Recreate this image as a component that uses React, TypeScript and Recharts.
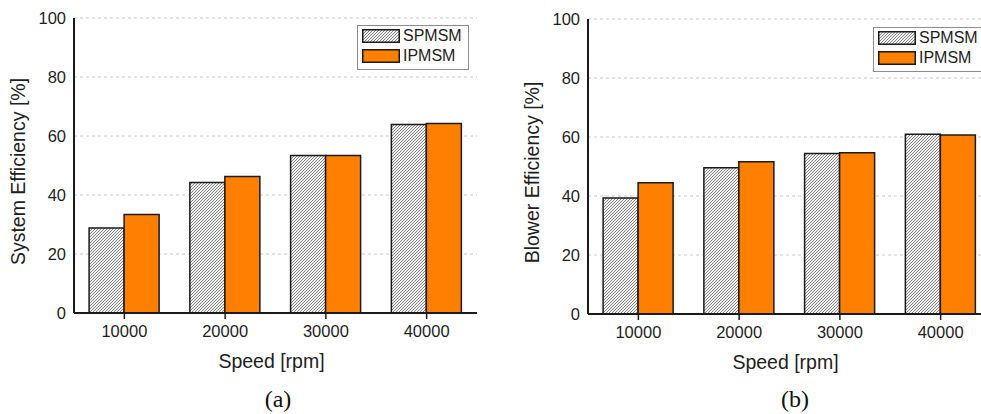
import { BarChart, Bar, XAxis, YAxis, CartesianGrid, Legend } from 'recharts';

const speeds = ['10000', '20000', '30000', '40000'];
const systemSpmsm = [28.8, 44.2, 53.4, 63.9];
const systemIpmsm = [33.4, 46.3, 53.4, 64.2];
const blowerSpmsm = [39.3, 49.6, 54.4, 60.9];
const blowerIpmsm = [44.5, 51.6, 54.7, 60.7];
const yTicks = [0, 20, 40, 60, 80, 100];
const seriesNames = ['SPMSM', 'IPMSM'];

const ORANGE = '#ff8000';
const INK = '#1a1a1a';
const FONT = '"Liberation Sans", Arial, sans-serif';

const toRows = (spmsm: number[], ipmsm: number[]) =>
  speeds.map((speed, i) => ({ speed, [seriesNames[0]]: spmsm[i], [seriesNames[1]]: ipmsm[i] }));

function Hatch({ id }: { id: string }) {
  return (
    <pattern id={id} patternUnits="userSpaceOnUse" width={3} height={3}>
      <rect width={3} height={3} fill="#f0f0f0" />
      <path d="M0,3 L3,0 M-1,1 L1,-1 M2,4 L4,2" stroke="#6e6e6e" strokeWidth={0.8} />
    </pattern>
  );
}

function LegendBox({ id }: { id: string }) {
  const rowTops = [4, 24];
  return (
    <div
      style={{
        position: 'relative',
        width: 112,
        height: 45,
        boxSizing: 'border-box',
        border: '1.5px solid #8c8c8c',
        background: '#fff',
        fontFamily: FONT,
        fontSize: 16,
        color: '#1e1e1e',
      }}
    >
      {seriesNames.map((name, i) => (
        <div key={name} style={{ position: 'absolute', left: 4, top: rowTops[i] - 1.5, height: 14, display: 'flex', alignItems: 'center' }}>
          <svg width={38} height={14} style={{ display: 'block' }}>
            <defs>
              <Hatch id={`legend-hatch-${id}`} />
            </defs>
            <rect
              x={0.75}
              y={0.75}
              width={36.5}
              height={12.5}
              fill={i === 0 ? `url(#legend-hatch-${id})` : ORANGE}
              stroke={INK}
              strokeWidth={1.5}
            />
          </svg>
          <span style={{ marginLeft: 3, lineHeight: '14px' }}>{name}</span>
        </div>
      ))}
    </div>
  );
}

const yTitle = (text: string) => (props: any) => {
  const vb = props.viewBox;
  const x = vb.x + vb.width - 56;
  const y = vb.y + vb.height / 2 + 6;
  return (
    <text
      x={x}
      y={y}
      transform={`rotate(-90, ${x}, ${y})`}
      textAnchor="middle"
      dominantBaseline="central"
      fill="#1e1e1e"
      fontSize={19.5}
      fontFamily={FONT}
    >
      {text}
    </text>
  );
};

const xTitle = (text: string) => (props: any) => {
  const vb = props.viewBox;
  return (
    <text
      x={vb.x + vb.width / 2 - 4}
      y={vb.y + 48}
      textAnchor="middle"
      dominantBaseline="central"
      fill="#1e1e1e"
      fontSize={19.5}
      fontFamily={FONT}
    >
      {text}
    </text>
  );
};

interface EfficiencyChartProps {
  id: string;
  spmsm: number[];
  ipmsm: number[];
  yLabel: string;
  left: number;
  width: number;
  margin: { top: number; right: number; left: number; bottom: number };
  xAxisHeight: number;
  legendAt: { left: number; top: number };
}

function EfficiencyChart({ id, spmsm, ipmsm, yLabel, left, width, margin, xAxisHeight, legendAt }: EfficiencyChartProps) {
  const tickStyle = { fill: '#1e1e1e', fontSize: 16.5, fontFamily: FONT };
  const axisLine = { stroke: INK, strokeWidth: 2 };
  return (
    <div style={{ position: 'absolute', left, top: 0 }}>
      <BarChart width={width} height={414} data={toRows(spmsm, ipmsm)} margin={margin} barGap={0} barCategoryGap="15%">
        <defs>
          <Hatch id={`hatch-${id}`} />
        </defs>
        <CartesianGrid vertical={false} stroke="#c8c8c8" strokeDasharray="3 3" />
        <XAxis
          dataKey="speed"
          height={xAxisHeight}
          tick={tickStyle}
          tickSize={6}
          tickMargin={6}
          axisLine={axisLine}
          tickLine={{ stroke: INK, strokeWidth: 1.5 }}
          label={xTitle('Speed [rpm]')}
        />
        <XAxis xAxisId="top" orientation="top" dataKey="speed" height={0} tick={false} tickLine={false} axisLine={axisLine} />
        <YAxis
          domain={[0, 100]}
          ticks={yTicks}
          width={60}
          tick={tickStyle}
          tickSize={0}
          tickMargin={8}
          tickLine={false}
          axisLine={axisLine}
          label={yTitle(yLabel)}
        />
        <YAxis yAxisId="right" orientation="right" domain={[0, 100]} width={0} tick={false} tickLine={false} axisLine={axisLine} />
        <Legend
          layout="vertical"
          align="center"
          verticalAlign="middle"
          wrapperStyle={{ left: legendAt.left, top: legendAt.top }}
          content={() => <LegendBox id={id} />}
        />
        <Bar dataKey={seriesNames[0]} fill={`url(#hatch-${id})`} stroke={INK} strokeWidth={1.5} isAnimationActive={false} />
        <Bar dataKey={seriesNames[1]} fill={ORANGE} stroke={INK} strokeWidth={1.5} isAnimationActive={false} />
      </BarChart>
    </div>
  );
}

const captionStyle = {
  position: 'absolute' as const,
  top: 384,
  width: 60,
  textAlign: 'center' as const,
  fontFamily: '"Liberation Serif", "Times New Roman", serif',
  fontSize: 24,
  lineHeight: '30px',
  color: '#111',
};

export default function App() {
  return (
    <div style={{ position: 'absolute', left: 0, top: 0, width: 981, height: 414, overflow: 'hidden', background: '#fff' }}>
      <EfficiencyChart
        id="a"
        spmsm={systemSpmsm}
        ipmsm={systemIpmsm}
        yLabel="System Efficiency [%]"
        left={0}
        width={490}
        margin={{ top: 18, right: 13, left: 14, bottom: 0 }}
        xAxisHeight={101}
        legendAt={{ left: 357, top: 25 }}
      />
      <EfficiencyChart
        id="b"
        spmsm={blowerSpmsm}
        ipmsm={blowerIpmsm}
        yLabel="Blower Efficiency [%]"
        left={490}
        width={510}
        margin={{ top: 19, right: 9, left: 38, bottom: 0 }}
        xAxisHeight={100}
        legendAt={{ left: 383, top: 27 }}
      />
      <div style={{ ...captionStyle, left: 248 }}>(a)</div>
      <div style={{ ...captionStyle, left: 765 }}>(b)</div>
    </div>
  );
}
